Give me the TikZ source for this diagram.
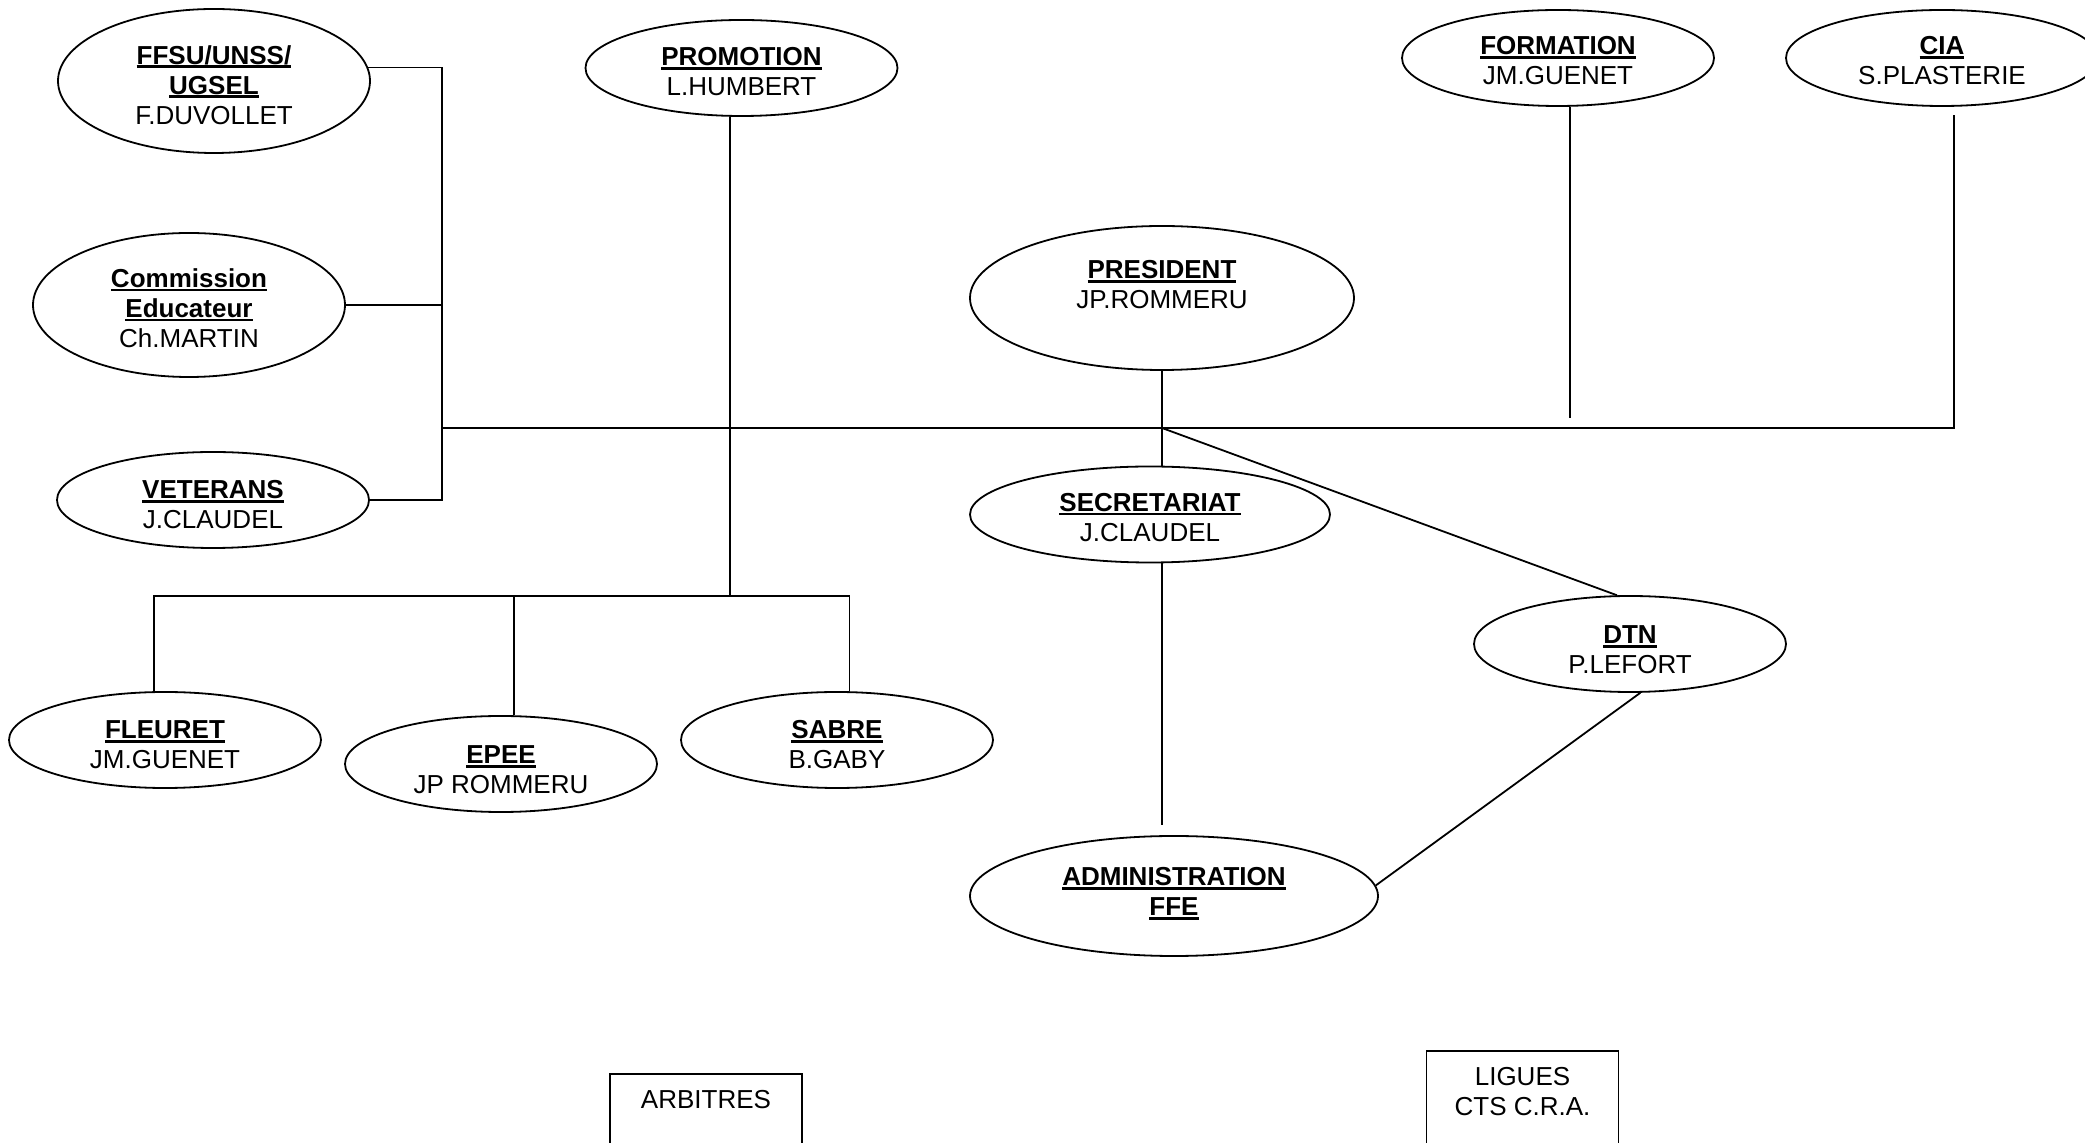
\documentclass[tikz,border=0pt]{standalone}
\usepackage{fontspec}
\setmainfont{Liberation Sans}
\usetikzlibrary{shapes.geometric}

\newsavebox{\ttlbox}
\newcommand{\ttl}[1]{\sbox{\ttlbox}{\bfseries #1}\rlap{\rule[-2pt]{\wd\ttlbox}{1.4pt}}\usebox{\ttlbox}}
\newcommand{\card}[2]{\vbox to #1{\hbox{\begin{tabular}{@{}c@{}}#2\end{tabular}}\vss}}

\begin{document}
\begin{tikzpicture}[x=0.5pt, y=-0.5pt, line width=0.9pt,
    unit/.style={draw, ellipse, inner sep=0pt, minimum width=156pt, minimum height=48pt,
      font=\fontsize{13}{15}\selectfont},
    tall/.style={minimum height=72pt},
    sidebox/.style={draw, rectangle, inner xsep=0pt, inner ysep=7pt, minimum width=96pt,
      anchor=north, font=\fontsize{13}{15}\selectfont}]
  \useasboundingbox (0,0) rectangle (2085,1143);
  % committees
  \node[unit, tall] (FFSU) at (214, 81) {\card{37.7pt}{\ttl{FFSU/UNSS/}\\\ttl{UGSEL}\\F.DUVOLLET}};
  \node[unit, tall] (EDUC) at (189, 305) {\card{38.5pt}{\ttl{Commission}\\\ttl{Educateur}\\Ch.MARTIN}};
  \node[unit] (VET) at (213, 500) {\card{22pt}{\ttl{VETERANS}\\J.CLAUDEL}};
  \node[unit] (PROMO) at (741.5, 68) {\card{23pt}{\ttl{PROMOTION}\\L.HUMBERT}};
  \node[unit] (FORM) at (1558, 58) {\card{24pt}{\ttl{FORMATION}\\JM.GUENET}};
  \node[unit] (CIA) at (1942, 58) {\card{24pt}{\ttl{CIA}\\S.PLASTERIE}};
  % board
  \node[unit, tall, minimum width=192pt] (PRES) at (1162, 298) {\card{40pt}{\ttl{PRESIDENT}\\JP.ROMMERU}};
  \node[unit, minimum width=180pt] (SECR) at (1150, 514.5) {\card{24pt}{\ttl{SECRETARIAT}\\J.CLAUDEL}};
  \node[unit] (DTN) at (1630, 644) {\card{21.4pt}{\ttl{DTN}\\P.LEFORT}};
  \node[unit, minimum width=204pt, minimum height=60pt] (ADMIN) at (1174, 896) {\card{31pt}{\ttl{ADMINISTRATION}\\\ttl{FFE}}};
  % weapons
  \node[unit] (FLEU) at (165, 740) {\card{22pt}{\ttl{FLEURET}\\JM.GUENET}};
  \node[unit] (EPEE) at (501, 764) {\card{21.3pt}{\ttl{EPEE}\\JP ROMMERU}};
  \node[unit] (SABR) at (837, 740) {\card{22pt}{\ttl{SABRE}\\B.GABY}};
  % outside boxes
  \node[sidebox] (ARB) at (706, 1073) {\card{60pt}{ARBITRES}};
  \node[sidebox] (LIG) at (1522.5, 1050) {\card{60pt}{LIGUES\\CTS C.R.A.}};

  \coordinate (LBUS) at (442, 428);
  \coordinate (HUB) at (1162, 428);
  \coordinate (CIAEND) at (1954, 115);
  \coordinate (FORMEND) at (1570, 418);
  \coordinate (ARMS) at (730, 596);

  % left committees
  \draw (FFSU.5) -| (LBUS);
  \draw (VET.east) -| (LBUS);
  \draw (EDUC.east) -- (EDUC.east -| LBUS);
  % main line
  \draw (LBUS) -| (CIAEND);
  \draw (FORM.south -| FORMEND) -- (FORMEND);
  % president
  \draw (PRES.south) -- (PRES.south |- SECR.north);
  \draw[shorten >=5pt] (SECR.south -| HUB) -- (ADMIN.north -| HUB);
  \draw (HUB) -- (DTN.105);
  \draw (DTN.282) -- (ADMIN.3);
  % weapons
  \draw (PROMO.south -| ARMS) -- (ARMS);
  \draw ([xshift=-5.5pt]FLEU.north) |- (ARMS) -| ([xshift=6.25pt]SABR.north);
  \draw ([xshift=6.5pt]EPEE.north) -- ([xshift=6.5pt]EPEE.north |- ARMS);
\end{tikzpicture}
\end{document}
